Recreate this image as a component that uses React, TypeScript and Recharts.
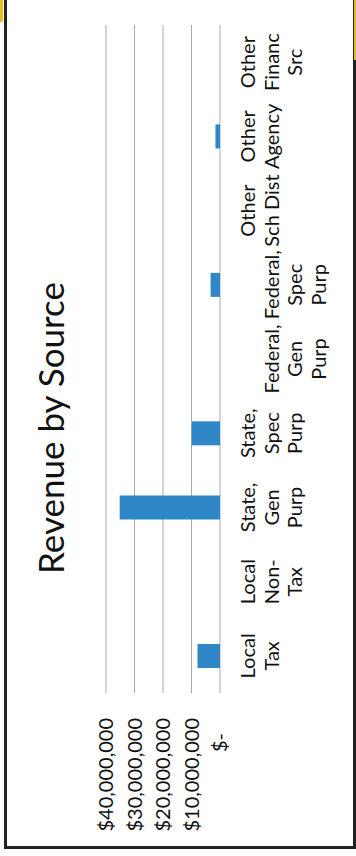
import { BarChart, Bar, XAxis, YAxis, CartesianGrid } from 'recharts';

// revenue sources, "\n" marks a line break in the axis label
const SOURCES = [
  'Local\nTax',
  'Local\nNon-\nTax',
  'State,\nGen\nPurp',
  'State,\nSpec\nPurp',
  '\nFederal,\nGen\nPurp',
  '\nFederal,\nSpec\nPurp',
  'Other\nSch Dist',
  'Other\nAgency',
  'Other\nFinanc\nSrc',
];
const REVENUE = [7900000, 0, 35200000, 9900000, 0, 3300000, 0, 1600000, 0];
const Y_TICKS = [0, 10000000, 20000000, 30000000, 40000000];

const W = 856;
const H = 356;
const PLOT_LEFT = 163;
const PLOT_BOTTOM = 220;
const FONT = 'Lato, "Open Sans", sans-serif';

const chartData = SOURCES.map((source, i) => ({ source, revenue: REVENUE[i] }));

const fmtMoney = (v: number) => (v === 0 ? '$-' : '$' + v.toLocaleString('en-US'));

function SourceTick({ x, payload }: any) {
  const lines = String(payload.value).split('\n');
  return (
    <text x={x} y={PLOT_BOTTOM + 35} textAnchor="middle" fontSize={20} fontFamily={FONT} fill="#111">
      {lines.map((line, i) => (
        <tspan key={i} x={x} dy={i === 0 ? 0 : 23.5}>
          {line || ' '}
        </tspan>
      ))}
    </text>
  );
}

function MoneyTick({ y, payload }: any) {
  const v = Number(payload.value);
  return (
    <text
      x={PLOT_LEFT - (v === 0 ? 40 : 25)}
      y={y}
      dy="0.36em"
      textAnchor="end"
      fontSize={20}
      fontFamily={FONT}
      fill="#111"
    >
      {fmtMoney(v)}
    </text>
  );
}

function RevenueChart() {
  return (
    <div style={{ position: 'relative', width: W, height: H, background: '#fff' }}>
      <div
        style={{
          position: 'absolute',
          left: 0,
          top: 34,
          width: W,
          textAlign: 'center',
          fontFamily: FONT,
          fontSize: 35,
          lineHeight: '32px',
          color: '#111',
        }}
      >
        Revenue by Source
      </div>
      <BarChart width={W} height={H} data={chartData} margin={{ top: 106, right: 25, bottom: 36, left: 103 }}>
        <CartesianGrid vertical={false} stroke="#a9a9a9" />
        <XAxis dataKey="source" axisLine={false} tickLine={false} height={100} interval={0} tick={<SourceTick />} />
        <YAxis
          width={60}
          domain={[0, 40000000]}
          ticks={Y_TICKS}
          axisLine={false}
          tickLine={false}
          tick={<MoneyTick />}
        />
        <Bar dataKey="revenue" fill="#2f87c8" barSize={24} isAnimationActive={false} />
      </BarChart>
    </div>
  );
}

export default function App() {
  return (
    <div
      style={{
        position: 'fixed',
        left: 0,
        top: 0,
        width: 356,
        height: 856,
        background: '#fff',
        overflow: 'hidden',
      }}
    >
      <div
        style={{
          position: 'absolute',
          left: 0,
          top: 0,
          width: W,
          height: H,
          transformOrigin: '0 0',
          transform: `translateY(${W}px) rotate(-90deg)`,
        }}
      >
        <RevenueChart />
      </div>
      {/* frame around the printed chart */}
      <div
        style={{
          position: 'absolute',
          left: 4,
          top: -10,
          width: 346,
          height: 853,
          border: '3px solid #222',
        }}
      />
      <div style={{ position: 'absolute', left: 0, top: 0, width: 3, height: 22, background: '#e6bf1f' }} />
      <div style={{ position: 'absolute', right: 0, top: 0, width: 2, height: 60, background: '#e6bf1f' }} />
    </div>
  );
}
